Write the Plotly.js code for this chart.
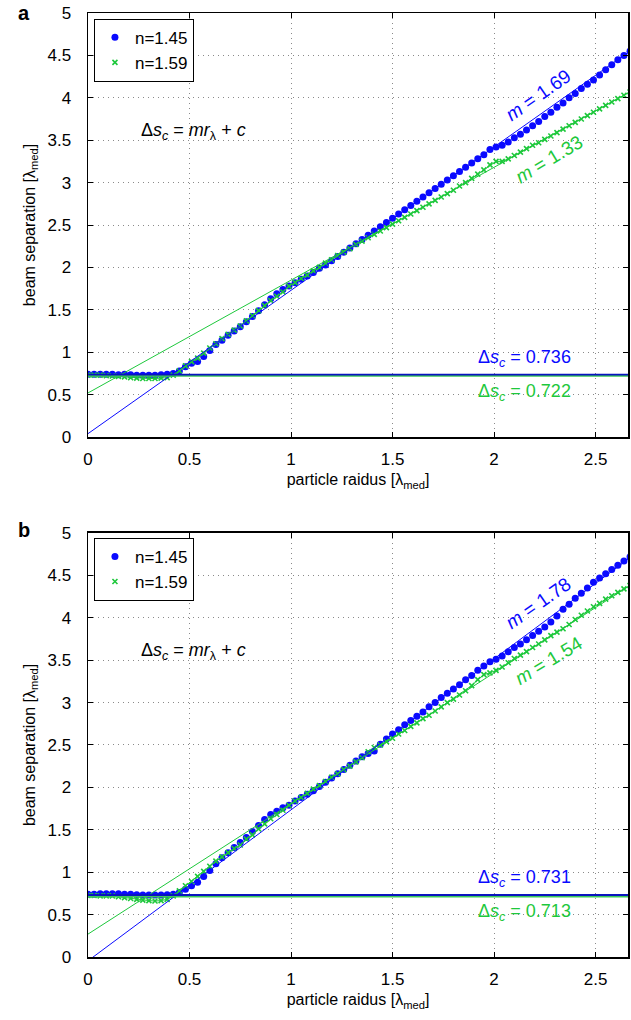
<!DOCTYPE html>
<html>
<head>
<meta charset="utf-8">
<script src="https://cdn.plot.ly/plotly-3.0.1.min.js"></script>
<style>html,body{margin:0;padding:0;background:#fff;}#chart{width:631px;height:1020px;}</style>
</head>
<body>
<div id="chart"></div>
<script>
// particle radius grid [lambda_med]
var radius = [0.00,0.03,0.06,0.09,0.12,0.15,0.18,0.21,0.24,0.27,0.30,0.33,0.36,0.39,0.42,0.45,0.48,0.51,0.54,0.57,
  0.60,0.63,0.66,0.69,0.72,0.75,0.78,0.81,0.84,0.87,0.90,0.93,0.96,0.99,1.02,1.05,1.08,1.11,1.14,1.17,
  1.20,1.23,1.26,1.29,1.32,1.35,1.38,1.41,1.44,1.47,1.50,1.53,1.56,1.59,1.62,1.65,1.68,1.71,1.74,1.77,
  1.80,1.83,1.86,1.89,1.92,1.95,1.98,2.01,2.04,2.07,2.10,2.13,2.16,2.19,2.22,2.25,2.28,2.31,2.34,2.37,
  2.40,2.43,2.46,2.49,2.52,2.55,2.58,2.61,2.64,2.67];

// panel a
var sepA_n145 = [0.74,0.74,0.74,0.74,0.74,0.735,0.74,0.735,0.73,0.73,0.73,0.73,0.735,0.74,0.75,0.78,0.83,0.87,0.89,0.95,
  1.02,1.09,1.14,1.20,1.25,1.30,1.36,1.42,1.49,1.56,1.63,1.69,1.74,1.78,1.82,1.86,1.90,1.94,1.99,2.03,
  2.08,2.13,2.18,2.23,2.28,2.33,2.38,2.43,2.48,2.53,2.58,2.63,2.68,2.73,2.78,2.83,2.88,2.93,2.98,3.03,
  3.08,3.13,3.18,3.23,3.28,3.33,3.39,3.42,3.44,3.48,3.53,3.57,3.62,3.67,3.72,3.78,3.83,3.89,3.94,4.00,
  4.05,4.11,4.16,4.21,4.27,4.33,4.39,4.45,4.50,4.55];
var sepA_n159 = [0.73,0.73,0.73,0.725,0.72,0.715,0.71,0.70,0.695,0.69,0.69,0.69,0.695,0.70,0.73,0.78,0.84,0.89,0.93,0.99,
  1.05,1.10,1.16,1.21,1.26,1.31,1.37,1.43,1.49,1.55,1.61,1.66,1.71,1.78,1.82,1.87,1.91,1.96,2.00,2.05,
  2.09,2.14,2.18,2.22,2.27,2.31,2.35,2.39,2.43,2.47,2.51,2.55,2.59,2.63,2.67,2.71,2.75,2.79,2.83,2.87,
  2.91,2.96,3.00,3.05,3.10,3.15,3.21,3.25,3.25,3.28,3.32,3.36,3.40,3.44,3.47,3.51,3.55,3.59,3.63,3.67,
  3.71,3.75,3.79,3.83,3.87,3.91,3.95,3.99,4.03,4.07];
// panel b
var sepB_n145 = [0.74,0.74,0.745,0.745,0.745,0.745,0.74,0.74,0.735,0.73,0.73,0.73,0.73,0.735,0.74,0.76,0.80,0.84,0.88,0.95,
  1.02,1.10,1.17,1.23,1.29,1.35,1.41,1.48,1.55,1.62,1.68,1.72,1.76,1.79,1.84,1.88,1.92,1.96,2.01,2.06,
  2.11,2.16,2.21,2.26,2.31,2.36,2.40,2.43,2.51,2.57,2.63,2.68,2.74,2.79,2.84,2.89,2.95,3.00,3.06,3.11,
  3.16,3.21,3.27,3.32,3.38,3.43,3.48,3.51,3.55,3.60,3.65,3.69,3.74,3.79,3.84,3.89,3.95,4.02,4.10,4.16,
  4.23,4.29,4.35,4.42,4.47,4.52,4.57,4.62,4.67,4.72];
var sepB_n159 = [0.725,0.725,0.72,0.72,0.72,0.71,0.70,0.69,0.68,0.67,0.665,0.66,0.665,0.68,0.72,0.78,0.84,0.89,0.95,1.01,
  1.07,1.13,1.18,1.23,1.28,1.32,1.39,1.44,1.51,1.57,1.63,1.68,1.73,1.79,1.84,1.88,1.93,1.98,2.02,2.07,
  2.12,2.16,2.21,2.25,2.30,2.35,2.42,2.47,2.50,2.54,2.58,2.63,2.67,2.72,2.76,2.81,2.85,2.90,2.95,3.00,
  3.04,3.09,3.14,3.20,3.27,3.33,3.35,3.38,3.42,3.47,3.52,3.56,3.60,3.65,3.69,3.74,3.79,3.83,3.87,3.92,
  3.98,4.03,4.08,4.13,4.17,4.22,4.26,4.30,4.34,4.38];

// fit parameters [n=1.45, n=1.59]
var slopeA = [1.69, 1.33], interceptA = [0.04, 0.52], plateauA = [0.736, 0.722];
var slopeB = [1.78, 1.54], interceptB = [-0.045, 0.27], plateauB = [0.731, 0.713];
var seriesNames = ['n=1.45', 'n=1.59'];
var xRange = [0, 2.66];
var xTicks = [0, 0.5, 1, 1.5, 2, 2.5];
var yTicks = [0, 0.5, 1, 1.5, 2, 2.5, 3, 3.5, 4, 4.5, 5];

var BLUE = 'rgb(10,10,255)', GREEN = 'rgb(30,200,60)';
var FONT = 'Liberation Sans, Arial, Helvetica, sans-serif';
var lineX = [0, 2.67];

function panelTraces(xa, ya, leg, yb, yg, slope, icpt, plat) {
  var t = [];
  t.push({x: radius, y: yb, xaxis: xa, yaxis: ya, mode: 'markers', type: 'scatter', name: seriesNames[0], legend: leg,
    marker: {color: BLUE, size: 7, symbol: 'circle'}});
  t.push({x: radius, y: yg, xaxis: xa, yaxis: ya, mode: 'lines', type: 'scatter', showlegend: false,
    line: {color: GREEN, width: 1}});
  t.push({x: radius, y: yg, xaxis: xa, yaxis: ya, mode: 'markers', type: 'scatter', name: seriesNames[1], legend: leg,
    marker: {color: GREEN, size: 5, symbol: 'x-thin', line: {color: GREEN, width: 1.6}}});
  var cols = [BLUE, GREEN];
  for (var k = 0; k < 2; k++) {
    t.push({x: lineX, y: lineX.map(function (v) { return slope[k] * v + icpt[k]; }), xaxis: xa, yaxis: ya,
      mode: 'lines', type: 'scatter', showlegend: false, line: {color: cols[k], width: 1}});
  }
  for (var k2 = 1; k2 >= 0; k2--) {
    t.push({x: lineX, y: [plat[k2], plat[k2]], xaxis: xa, yaxis: ya, mode: 'lines', type: 'scatter', showlegend: false,
      line: {color: k2 === 0 ? 'rgb(10,20,190)' : 'rgb(60,200,90)', width: 1.8}});
  }
  return t;
}

var data = panelTraces('x', 'y', 'legend', sepA_n145, sepA_n159, slopeA, interceptA, plateauA)
  .concat(panelTraces('x2', 'y2', 'legend2', sepB_n145, sepB_n159, slopeB, interceptB, plateauB));

function xAxis(anchor) {
  return {domain: [0, 1], anchor: anchor, range: xRange, tickvals: xTicks, ticks: 'inside', ticklen: 5,
    tickcolor: '#000', showline: true, linecolor: '#000', linewidth: 1.5, mirror: 'ticks',
    showgrid: true, gridcolor: '#8a8a8a', griddash: '1px,4px', gridwidth: 1, zeroline: false,
    tickfont: {family: FONT, size: 17, color: '#000'}, ticklabelstandoff: 6,
    title: {text: 'particle raidus [λ<sub>med</sub>]', font: {family: FONT, size: 16, color: '#000'}, standoff: 6}};
}
function yAxis(anchor, dom) {
  return {domain: dom, anchor: anchor, range: [0, 5], tickvals: yTicks, ticks: 'inside', ticklen: 5,
    tickcolor: '#000', showline: true, linecolor: '#000', linewidth: 1.5, mirror: 'ticks',
    showgrid: true, gridcolor: '#8a8a8a', griddash: '1px,4px', gridwidth: 1, zeroline: false,
    tickfont: {family: FONT, size: 17, color: '#000'}, ticklabelstandoff: 12,
    title: {text: 'beam separation [λ<sub>med</sub>]', font: {family: FONT, size: 16, color: '#000'}, standoff: 8}};
}

function panelAnn(xr, yr, slope, plat) {
  var f = function (sz, c) { return {family: FONT, size: sz, color: c}; };
  return [
    {xref: xr, yref: yr, x: 0.52, y: 3.6, text: 'Δ<i>s</i><sub><i>c</i></sub> = <i>mr</i><sub>λ</sub> + <i>c</i>',
      showarrow: false, font: f(18, '#000')},
    {xref: xr, yref: yr, x: 2.215, y: plat === plateauA ? 4.03 : 4.17, text: '<i>m</i> = ' + slope[0].toFixed(2),
      showarrow: false, textangle: -35, font: f(19, BLUE)},
    {xref: xr, yref: yr, x: 2.27, y: plat === plateauA ? 3.27 : 3.50, text: '<i>m</i> = ' + slope[1].toFixed(2),
      showarrow: false, textangle: -31, font: f(19, GREEN)},
    {xref: xr, yref: yr, x: 2.15, y: 0.93, text: 'Δ<i>s</i><sub><i>c</i></sub> = ' + plat[0].toFixed(3),
      showarrow: false, font: f(18, BLUE)},
    {xref: xr, yref: yr, x: 2.15, y: 0.53, text: 'Δ<i>s</i><sub><i>c</i></sub> = ' + plat[1].toFixed(3),
      showarrow: false, font: f(18, GREEN)}
  ];
}

var annotations = panelAnn('x', 'y', slopeA, plateauA).concat(panelAnn('x2', 'y2', slopeB, plateauB));
annotations.push({xref: 'paper', yref: 'paper', x: -0.118, y: 1.0135, xanchor: 'center', yanchor: 'top',
  text: '<b>a</b>', showarrow: false, font: {family: FONT, size: 20, color: '#000'}});
annotations.push({xref: 'paper', yref: 'paper', x: -0.118, y: 0.466, xanchor: 'center', yanchor: 'top',
  text: '<b>b</b>', showarrow: false, font: {family: FONT, size: 20, color: '#000'}});

var legendStyle = function (y) {
  return {x: 0.011, y: y, xanchor: 'left', yanchor: 'top', bgcolor: '#fff', bordercolor: '#000', borderwidth: 1,
    font: {family: FONT, size: 17, color: '#000'}, tracegroupgap: 0, itemwidth: 30};
};

var layout = {
  width: 631, height: 1020,
  margin: {l: 88, r: 3, t: 13, b: 63},
  paper_bgcolor: '#fff', plot_bgcolor: '#fff',
  showlegend: true,
  xaxis: xAxis('y'), yaxis: yAxis('x', [0.5508, 1]),
  xaxis2: xAxis('y2'), yaxis2: yAxis('x2', [0, 0.4492]),
  legend: legendStyle(0.994), legend2: legendStyle(0.444),
  annotations: annotations
};

Plotly.newPlot('chart', data, layout, {staticPlot: true, displayModeBar: false});
</script>
</body>
</html>
